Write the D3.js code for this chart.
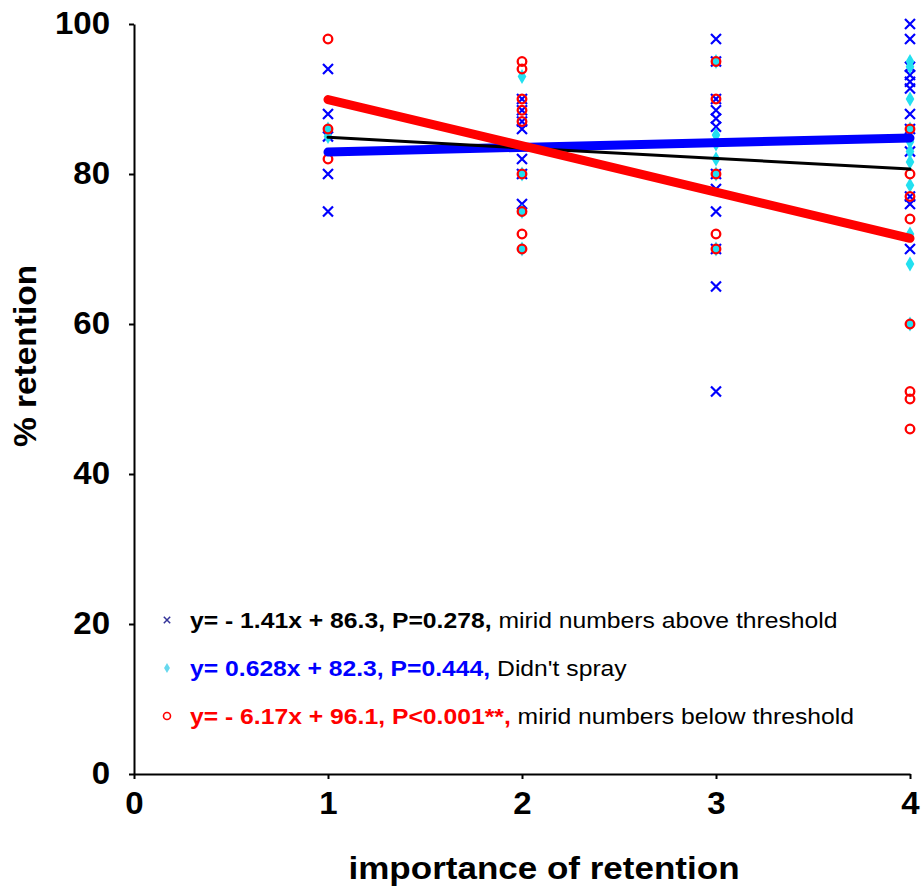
<!DOCTYPE html>
<html>
<head>
<meta charset="utf-8">
<script src="https://cdn.jsdelivr.net/npm/d3@7"></script>
<style>
  html, body { margin: 0; padding: 0; background: #fff; }
  svg { display: block; font-family: "Liberation Sans", Arial, sans-serif; }
</style>
</head>
<body>
<svg id="chart" width="924" height="887"></svg>
<script>
// ---------- DATA ----------
const xTicks = [0, 1, 2, 3, 4];
const yTicks = [0, 20, 40, 60, 80, 100];
const xTitle = "importance of retention";
const yTitle = "% retention";

// mirid numbers above threshold (blue x)
const aboveX = [1,1,1,1,1, 2,2,2,2,2,2,2, 3,3,3,3,3,3,3,3,3,3,3,3, 4,4,4,4,4,4,4,4,4,4,4,4];
const aboveY = [94,88,85,80,75, 90,88.5,87,86,82,80,76, 98,95,90,88.5,87.4,86.3,80,78,75,70,65,51, 100,98,94.3,93.2,92.3,91.4,88,86,83,77,76,70];

// didn't spray (cyan diamonds)
const sprayX = [1,1, 2,2,2,2, 3,3,3,3,3,3, 4,4,4,4,4,4,4,4,4,4,4];
const sprayY = [86,85, 93,80,75,70, 95,85.2,84,82,80,70, 95,94.3,90,86,84.3,83,81.6,78.5,72,68,60];

// mirid numbers below threshold (red circles)
const belowX = [1,1,1, 2,2,2,2,2,2,2,2,2, 3,3,3,3,3, 4,4,4,4,4,4,4,4];
const belowY = [98,86,82, 95,94,90,88.5,87,80,75,72,70, 95,90,80,72,70, 86,80,77,74,60,51,50,46];

// fitted lines (slope, intercept) from the legend
const fitSlopes = [0.628, -1.41, -6.17];       // didn't spray, above, below
const fitIntercepts = [82.3, 86.3, 96.1];
const fitRange = [1, 4];

const legendEquations = ["y= - 1.41x + 86.3, P=0.278,", "y= 0.628x + 82.3, P=0.444,", "y= - 6.17x + 96.1, P<0.001**,"];
const legendNames = [" mirid numbers above threshold", " Didn't spray", " mirid numbers below threshold"];

// ---------- CHART ----------
const svg = d3.select("#chart");
const x = d3.scaleLinear().domain([0, 4]).range([134, 910]);
const y = d3.scaleLinear().domain([0, 100]).range([774, 24]);

// axes
const yAxis = svg.append("g").attr("transform", `translate(${x(0)},0)`)
  .call(d3.axisLeft(y).tickValues(yTicks).tickSize(5).tickSizeOuter(0).tickFormat(d3.format("d")));
const xAxis = svg.append("g").attr("transform", `translate(0,${y(0)})`)
  .call(d3.axisBottom(x).tickValues(xTicks).tickSize(5).tickSizeOuter(0).tickFormat(d3.format("d")));

const TSX = 1.065;
[yAxis, xAxis].forEach(g => {
  g.select(".domain").attr("stroke", "#000").attr("stroke-width", 2);
  g.selectAll(".tick line").attr("stroke", "#000").attr("stroke-width", 2);
  g.selectAll(".tick text").attr("fill", "#000").attr("font-size", 31).attr("font-weight", "bold")
    .attr("font-family", "'Liberation Sans', Arial, sans-serif");
});
yAxis.selectAll(".tick text").attr("x", -24 / TSX).attr("transform", `scale(${TSX},1)`);
xAxis.selectAll(".tick text").attr("y", 18).attr("transform", `scale(${TSX},1)`);

// axis titles
svg.append("text")
  .attr("transform", `translate(544,879) scale(1.13,1)`)
  .attr("text-anchor", "middle").attr("font-size", 31).attr("font-weight", "bold")
  .text(xTitle);
svg.append("text")
  .attr("transform", `translate(36,356) rotate(-90) scale(1.08,1)`)
  .attr("text-anchor", "middle").attr("font-size", 31).attr("font-weight", "bold")
  .text(yTitle);

// markers
const xPath = s => `M${-s},${-s}L${s},${s}M${-s},${s}L${s},${-s}`;
svg.append("g").selectAll("path").data(d3.zip(aboveX, aboveY)).join("path")
  .attr("transform", d => `translate(${x(d[0])},${y(d[1])})`)
  .attr("d", xPath(5)).attr("stroke", "#0000ff").attr("stroke-width", 2.2).attr("fill", "none");

const diamond = d3.symbol().type(d3.symbolDiamond).size(65);
svg.append("g").selectAll("path").data(d3.zip(sprayX, sprayY)).join("path")
  .attr("transform", d => `translate(${x(d[0])},${y(d[1])})`)
  .attr("d", diamond).attr("fill", "#22e0f0");

svg.append("g").selectAll("circle").data(d3.zip(belowX, belowY)).join("circle")
  .attr("cx", d => x(d[0])).attr("cy", d => y(d[1])).attr("r", 4.3)
  .attr("fill", "none").attr("stroke", "#ff0000").attr("stroke-width", 2.3);

// fitted lines
const lineColors = ["#0000ff", "#000000", "#ff0000"];
const lineWidths = [9, 3, 9];
fitSlopes.forEach((m, i) => {
  const pts = fitRange.map(v => [v, m * v + fitIntercepts[i]]);
  svg.append("path")
    .attr("d", d3.line().x(d => x(d[0])).y(d => y(d[1]))(pts))
    .attr("stroke", lineColors[i]).attr("stroke-width", lineWidths[i])
    .attr("stroke-linecap", "round").attr("fill", "none");
});

// legend
const legColors = ["#000000", "#0000ff", "#ff0000"];
const legY = [620, 668, 716];
legendEquations.forEach((eq, i) => {
  const g = svg.append("g").attr("transform", `translate(167,${legY[i]})`);
  if (i === 0) {
    g.append("path").attr("d", xPath(3.2)).attr("stroke", "#333399").attr("stroke-width", 1.5).attr("fill", "none");
  } else if (i === 1) {
    g.append("path").attr("d", d3.symbol().type(d3.symbolDiamond).size(30)).attr("fill", "#66d8ee");
  } else {
    g.append("circle").attr("r", 3.5).attr("fill", "none").attr("stroke", "#ff0000").attr("stroke-width", 1.6);
  }
  const t = g.append("text").attr("transform", `translate(23,0) scale(1.075,1)`)
    .attr("dy", "0.35em").attr("font-size", 23).attr("xml:space", "preserve");
  t.append("tspan").attr("font-weight", "bold").attr("fill", legColors[i]).text(eq);
  t.append("tspan").attr("fill", "#000").text(legendNames[i]);
});
</script>
</body>
</html>
